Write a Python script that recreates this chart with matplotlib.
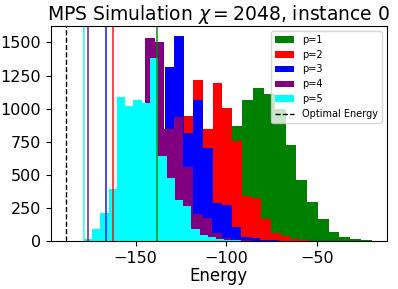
import matplotlib

matplotlib.use("Agg")
import matplotlib.pyplot as plt
import numpy as np

labels = ["p=1", "p=2", "p=3", "p=4", "p=5"]
colors = ["green", "red", "blue", "purple", "cyan"]

# histogram ranges (lowest / highest sampled energy) per p, 20 bins each
e_min = [-138.5, -161.1, -165.6, -176.6, -178.65]
e_max = [-19.7, -53.9, -60.0, -70.6, -87.2]

counts_p1 = [3, 8, 20, 50, 130, 300, 560, 866, 1064, 1153, 1110, 995, 728, 460, 292, 164, 70, 28, 13, 5]
counts_p2 = [3, 10, 30, 80, 200, 400, 700, 948, 1213, 843, 1195, 1006, 755, 340, 322, 164, 58, 40, 15, 7]
counts_p3 = [5, 20, 60, 160, 400, 800, 1316, 1547, 818, 1069, 704, 284, 272, 103, 33, 20, 8, 4, 2, 1]
counts_p4 = [5, 25, 90, 250, 600, 950, 1535, 1504, 848, 936, 561, 201, 176, 58, 20, 9, 4, 2, 1, 1]
counts_p5 = [15, 88, 209, 392, 1090, 1017, 1062, 1042, 1384, 641, 478, 310, 267, 91, 45, 28, 15, 8, 4, 2]
all_counts = [counts_p1, counts_p2, counts_p3, counts_p4, counts_p5]

# best energy found by the MPS simulation for each p
best_energy = [-138.3, -162.3, -166.5, -176.3, -178.4]
optimal_energy = -188.3

fig = plt.figure(figsize=(3.98, 2.89), dpi=100)
ax = fig.add_axes([0.128, 0.166, 0.844, 0.744])

for lo, hi, counts, color, label in zip(e_min, e_max, all_counts, colors, labels):
    edges = np.linspace(lo, hi, len(counts) + 1)
    centers = 0.5 * (edges[:-1] + edges[1:])
    ax.hist(centers, bins=edges, weights=counts, color=color, label=label)

for e, color in zip(best_energy, colors):
    ax.axvline(e, color=color, linewidth=1.2, alpha=0.85)
ax.axvline(optimal_energy, color="black", linestyle="--", linewidth=1.0, label="Optimal Energy")

ax.xaxis.set_major_locator(matplotlib.ticker.MultipleLocator(50))
ax.yaxis.set_major_locator(matplotlib.ticker.MultipleLocator(250))
ax.set_title(r"MPS Simulation $\chi = 2048$, instance 0", fontsize=13.5, pad=3)
ax.set_xlabel("Energy", fontsize=12, labelpad=1)
ax.tick_params(labelsize=11.5)
ax.legend(loc="upper right", fontsize=7)

fig.savefig("out.png", dpi=100)
